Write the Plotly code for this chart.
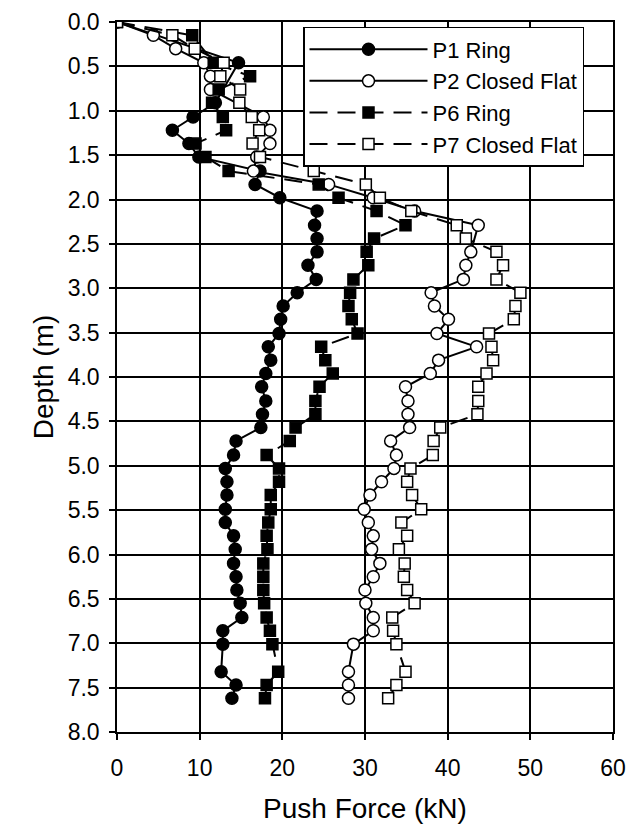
import plotly.graph_objects as go

# Depth (m) and push force (kN)
P1_depth = [0.0, 0.46, 0.91, 1.07, 1.22, 1.37, 1.52, 1.68, 1.83, 1.98,
            2.13, 2.29, 2.44, 2.59, 2.74, 2.90, 3.05, 3.20, 3.35, 3.51,
            3.66, 3.81, 3.96, 4.11, 4.27, 4.42, 4.57, 4.72, 4.88, 5.03,
            5.18, 5.33, 5.49, 5.64, 5.79, 5.94, 6.10, 6.25, 6.40, 6.55,
            6.71, 6.86, 7.01, 7.32, 7.47, 7.62]
P1_force = [0, 14.7, 11.9, 9.2, 6.7, 8.7, 9.9, 17.3, 16.7, 19.7,
            24.2, 23.9, 24.2, 24.2, 23.1, 24.1, 21.8, 20.1, 19.8, 19.6,
            18.3, 18.6, 18.0, 17.5, 18.0, 17.6, 17.4, 14.4, 14.1, 13.1,
            13.3, 13.3, 13.1, 13.1, 14.1, 14.3, 14.1, 14.4, 14.5, 14.9,
            15.1, 12.8, 12.8, 12.6, 14.4, 13.9]

P2_depth = [0.0, 0.15, 0.30, 0.46, 0.61, 0.76, 1.07, 1.22, 1.37, 1.52,
            1.68, 1.83, 1.98, 2.13, 2.29, 2.59, 2.74, 2.90, 3.05, 3.20,
            3.35, 3.51, 3.66, 3.81, 3.96, 4.11, 4.27, 4.42, 4.57, 4.72,
            4.88, 5.03, 5.18, 5.33, 5.49, 5.64, 5.79, 5.94, 6.10, 6.25,
            6.40, 6.55, 6.71, 6.86, 7.01, 7.32, 7.47, 7.62]
P2_force = [0, 4.4, 7.1, 10.5, 11.3, 11.3, 17.7, 18.5, 18.5, 16.9,
            16.5, 25.6, 31.0, 36.0, 43.7, 42.8, 42.2, 41.9, 38.0, 38.4,
            40.1, 38.7, 43.5, 38.9, 37.9, 34.9, 35.2, 35.2, 35.4, 33.1,
            33.8, 33.5, 32.0, 30.6, 29.9, 30.4, 31.0, 30.8, 31.8, 31.0,
            30.0, 30.1, 31.0, 31.0, 28.6, 28.0, 28.0, 28.0]

P6_depth = [0.0, 0.15, 0.46, 0.61, 0.76, 0.91, 1.07, 1.22, 1.37, 1.52,
            1.68, 1.83, 1.98, 2.13, 2.29, 2.44, 2.59, 2.74, 2.90, 3.05,
            3.20, 3.35, 3.51, 3.66, 3.81, 3.96, 4.11, 4.27, 4.42, 4.57,
            4.72, 4.88, 5.03, 5.18, 5.33, 5.49, 5.64, 5.79, 5.94, 6.10,
            6.25, 6.40, 6.55, 6.71, 6.86, 7.01, 7.32, 7.47, 7.62]
P6_force = [0, 9.1, 11.7, 16.1, 12.3, 11.5, 12.8, 13.2, 9.5, 10.7,
            13.5, 24.4, 26.8, 31.4, 34.9, 31.1, 30.2, 30.4, 28.6, 28.2,
            28.0, 28.4, 29.1, 24.7, 25.2, 26.1, 24.5, 24.0, 24.0, 21.6,
            20.9, 18.1, 19.6, 19.6, 18.6, 18.6, 18.3, 18.1, 18.2, 17.7,
            17.7, 17.7, 17.8, 18.1, 18.5, 18.8, 19.5, 18.1, 17.9]

P7_depth = [0.0, 0.15, 0.30, 0.46, 0.61, 0.76, 0.91, 1.07, 1.22, 1.37,
            1.52, 1.68, 1.83, 1.98, 2.13, 2.29, 2.44, 2.59, 2.74, 2.90,
            3.05, 3.20, 3.35, 3.51, 3.66, 3.81, 3.96, 4.11, 4.27, 4.42,
            4.57, 4.72, 4.88, 5.03, 5.18, 5.33, 5.49, 5.64, 5.79, 5.94,
            6.10, 6.25, 6.40, 6.55, 6.71, 6.86, 7.01, 7.32, 7.47, 7.62]
P7_force = [0, 6.7, 9.4, 12.9, 12.5, 14.9, 14.8, 16.3, 17.2, 16.4,
            17.3, 23.8, 30.1, 31.8, 35.6, 41.1, 42.2, 45.9, 46.7, 45.9,
            48.8, 48.2, 48.0, 45.0, 45.3, 45.5, 44.7, 43.7, 43.7, 43.6,
            39.1, 38.3, 38.2, 35.5, 35.1, 35.7, 36.8, 34.4, 35.1, 34.1,
            34.8, 34.7, 35.1, 36.0, 33.3, 33.4, 33.8, 34.9, 33.8, 32.8]

series_names = ["P1 Ring", "P2 Closed Flat", "P6 Ring", "P7 Closed Flat"]
x_ticks = [0, 10, 20, 30, 40, 50, 60]
y_ticks = [0.0, 0.5, 1.0, 1.5, 2.0, 2.5, 3.0, 3.5, 4.0, 4.5, 5.0, 5.5, 6.0, 6.5, 7.0, 7.5, 8.0]

FONT = "Arial, Liberation Sans, sans-serif"

fig = go.Figure()
specs = [
    (P1_force, P1_depth, series_names[0], "circle", "black", "solid", 12),
    (P2_force, P2_depth, series_names[1], "circle", "white", "solid", 12),
    (P6_force, P6_depth, series_names[2], "square", "black", "18px,10px", 11),
    (P7_force, P7_depth, series_names[3], "square", "white", "18px,10px", 11),
]
for xs, ys, name, sym, fill, dash, size in specs:
    fig.add_trace(go.Scatter(
        x=xs, y=ys, name=name, mode="lines+markers",
        line=dict(color="black", width=2, dash=dash),
        marker=dict(symbol=sym, size=size, color=fill,
                    line=dict(color="black", width=1.5)),
    ))

fig.update_layout(
    width=629, height=829,
    margin=dict(l=117, r=16, t=22, b=97),
    paper_bgcolor="white", plot_bgcolor="white",
    font=dict(family=FONT, color="black", size=23),
    showlegend=True,
    legend=dict(
        x=0.375, y=0.993, xanchor="left", yanchor="top",
        bgcolor="white", bordercolor="black", borderwidth=1.5,
        font=dict(family=FONT, size=22, color="black"),
        itemwidth=118, tracegroupgap=0,
    ),
)
fig.update_xaxes(
    range=[0, 60], tickvals=x_ticks, ticktext=[str(v) for v in x_ticks],
    showgrid=True, gridcolor="black", gridwidth=1.5,
    showline=True, linecolor="black", linewidth=1.5, mirror=True,
    ticks="outside", ticklen=6, tickcolor="black", tickwidth=1.5,
    ticklabelstandoff=9, automargin=False,
    zeroline=False,
    tickfont=dict(size=23),
    title=dict(text="Push Force (kN)", font=dict(size=28), standoff=18),
)
fig.update_yaxes(
    range=[8, 0], tickvals=y_ticks, ticktext=["%.1f" % v for v in y_ticks],
    showgrid=True, gridcolor="black", gridwidth=1.5,
    showline=True, linecolor="black", linewidth=1.5, mirror=True,
    ticks="outside", ticklen=6, tickcolor="black", tickwidth=1.5,
    ticklabelstandoff=5, automargin=False,
    zeroline=False,
    tickfont=dict(size=23),
    title=dict(text="Depth (m)", font=dict(size=28), standoff=6),
)

fig.write_html("out.html")
